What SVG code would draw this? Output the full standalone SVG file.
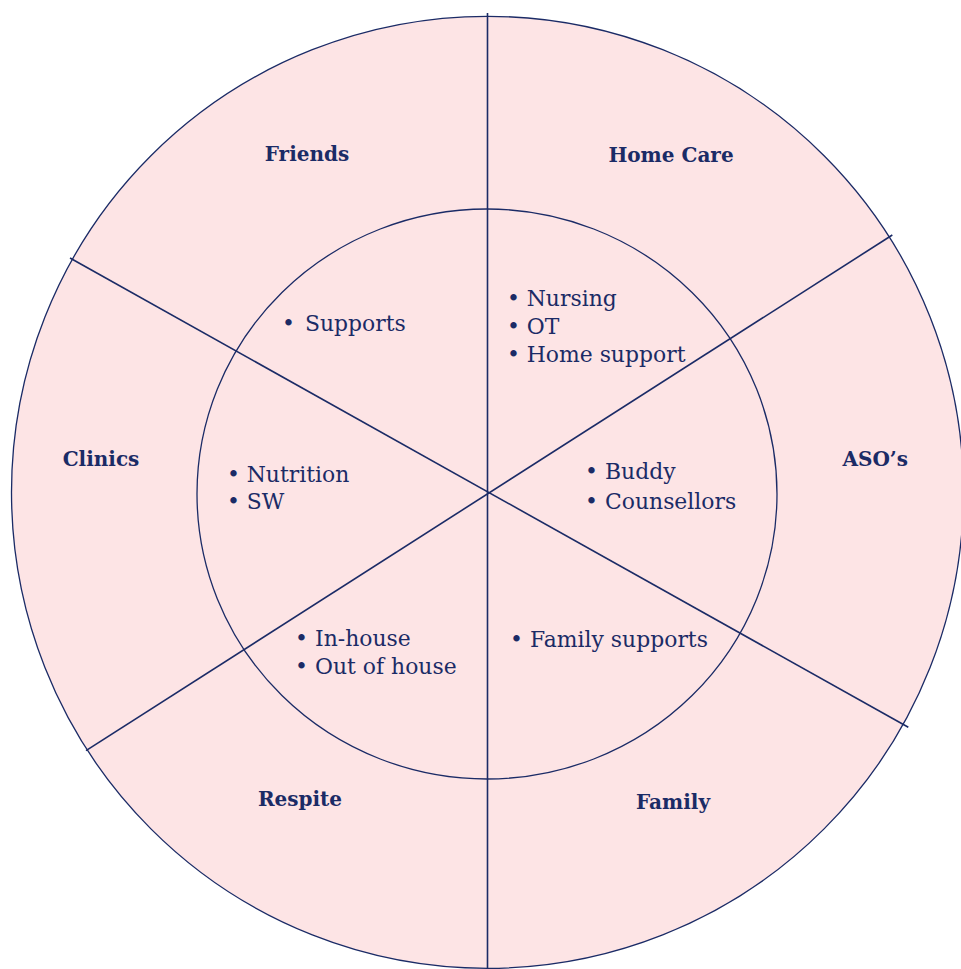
<svg xmlns="http://www.w3.org/2000/svg" width="961" height="969" viewBox="0 0 961 969">
<style>
.bg{fill:#fde4e5;stroke:#1b2b66;stroke-width:1.3}
.ring{fill:none;stroke:#1b2b66;stroke-width:1.3}
.div{stroke:#1b2b66;stroke-width:1.6;fill:none}
.h{font-family:"DejaVu Serif","Liberation Serif",serif;font-weight:bold;font-size:20px;fill:#1b2b66;text-anchor:middle}
.b{font-family:"DejaVu Serif","Liberation Serif",serif;font-size:21.9px;fill:#1b2b66}
</style>
<rect width="961" height="969" fill="#ffffff"/>
<circle class="bg" cx="487.5" cy="492.3" r="476"/>
<ellipse class="ring" cx="487" cy="494" rx="290" ry="285"/>
<g id="connectors">
<line class="div" x1="487.5" y1="13" x2="487.5" y2="969"/>
<line class="div" x1="70" y1="258" x2="908.3" y2="727.3"/>
<line class="div" x1="892.3" y1="235" x2="86" y2="750.7"/>
</g>
<g id="friends">
<text class="h" x="307" y="161">Friends</text>
<text class="b"><tspan x="282" y="331">•</tspan><tspan x="305" y="331">Supports</tspan></text>
</g>
<g id="home-care">
<text class="h" x="671" y="162">Home Care</text>
<text class="b"><tspan x="507" y="306">•</tspan><tspan x="526.7" y="306">Nursing</tspan><tspan x="507" y="334">•</tspan><tspan x="526.7" y="334">OT</tspan><tspan x="507" y="362.3">•</tspan><tspan x="526.7" y="362.3">Home support</tspan></text>
</g>
<g id="clinics">
<text class="h" x="101" y="466">Clinics</text>
<text class="b"><tspan x="227" y="481.7">•</tspan><tspan x="246.7" y="481.7">Nutrition</tspan><tspan x="227" y="509.3">•</tspan><tspan x="246.7" y="509.3">SW</tspan></text>
</g>
<g id="asos">
<text class="h" x="875.3" y="466">ASO’s</text>
<text class="b"><tspan x="585" y="479.3">•</tspan><tspan x="605" y="479.3">Buddy</tspan><tspan x="585" y="509">•</tspan><tspan x="605" y="509">Counsellors</tspan></text>
</g>
<g id="respite">
<text class="h" x="300" y="806">Respite</text>
<text class="b"><tspan x="295" y="646">•</tspan><tspan x="315" y="646">In-house</tspan><tspan x="295" y="674.3">•</tspan><tspan x="315" y="674.3">Out of house</tspan></text>
</g>
<g id="family">
<text class="h" x="673" y="809.3">Family</text>
<text class="b"><tspan x="510" y="647.3">•</tspan><tspan x="530" y="647.3">Family supports</tspan></text>
</g>
</svg>
